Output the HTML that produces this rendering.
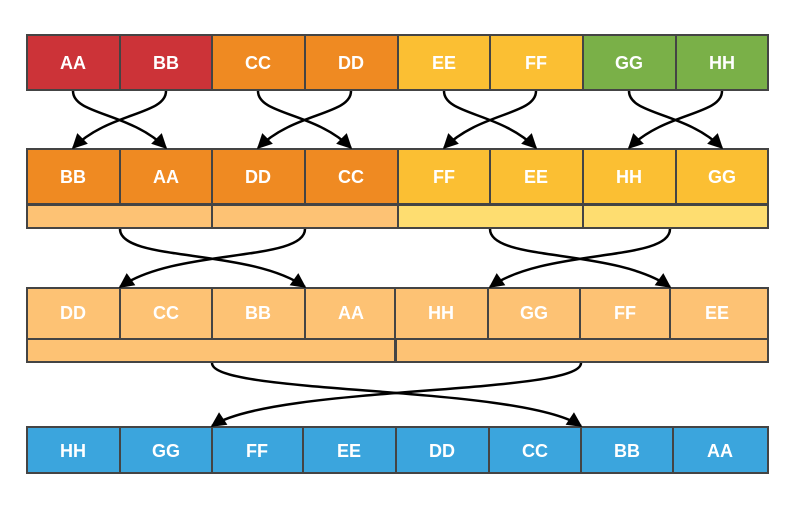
<!DOCTYPE html><html><head><style>body{margin:0;background:#fff;width:800px;height:504px;overflow:hidden}</style></head><body>
<svg width="800" height="504" xmlns="http://www.w3.org/2000/svg" font-family="Liberation Sans, sans-serif" font-weight="bold" font-size="18">
<defs>
<marker id="b" viewBox="0 0 10 10" refX="9" refY="5" markerWidth="18" markerHeight="15" orient="auto" markerUnits="userSpaceOnUse"><path d="M0,0L10,5L0,10z" fill="#000"/></marker></defs>
<g stroke="#444" stroke-width="2">
<rect x="27" y="35" width="93" height="55" fill="#cc3338"/><rect x="120" y="35" width="92" height="55" fill="#cc3338"/>
<rect x="212" y="35" width="93" height="55" fill="#ef8a22"/><rect x="305" y="35" width="93" height="55" fill="#ef8a22"/>
<rect x="398" y="35" width="92" height="55" fill="#fbbf33"/><rect x="490" y="35" width="93" height="55" fill="#fbbf33"/>
<rect x="583" y="35" width="93" height="55" fill="#7ab048"/><rect x="676" y="35" width="92" height="55" fill="#7ab048"/>

<rect x="27" y="149" width="93" height="55" fill="#ef8a22"/><rect x="120" y="149" width="92" height="55" fill="#ef8a22"/>
<rect x="212" y="149" width="93" height="55" fill="#ef8a22"/><rect x="305" y="149" width="93" height="55" fill="#ef8a22"/>
<rect x="398" y="149" width="92" height="55" fill="#fbbf33"/><rect x="490" y="149" width="93" height="55" fill="#fbbf33"/>
<rect x="583" y="149" width="93" height="55" fill="#fbbf33"/><rect x="676" y="149" width="92" height="55" fill="#fbbf33"/>
<rect x="27" y="205" width="185" height="23" fill="#fdc274"/><rect x="212" y="205" width="186" height="23" fill="#fdc274"/>
<rect x="398" y="205" width="185" height="23" fill="#fedd70"/><rect x="583" y="205" width="185" height="23" fill="#fedd70"/>

<rect x="27" y="288" width="93" height="51" fill="#fdc274"/><rect x="120" y="288" width="92" height="51" fill="#fdc274"/>
<rect x="212" y="288" width="93" height="51" fill="#fdc274"/><rect x="305" y="288" width="90" height="51" fill="#fdc274"/>
<rect x="395" y="288" width="93" height="51" fill="#fdc274"/><rect x="488" y="288" width="92" height="51" fill="#fdc274"/>
<rect x="580" y="288" width="90" height="51" fill="#fdc274"/><rect x="670" y="288" width="98" height="51" fill="#fdc274"/>
<rect x="27" y="339" width="368" height="23" fill="#fdc274"/><rect x="396" y="339" width="372" height="23" fill="#fdc274"/>

<rect x="27" y="427" width="93" height="46" fill="#3ba5dd"/><rect x="120" y="427" width="92" height="46" fill="#3ba5dd"/>
<rect x="212" y="427" width="91" height="46" fill="#3ba5dd"/><rect x="303" y="427" width="93" height="46" fill="#3ba5dd"/>
<rect x="396" y="427" width="93" height="46" fill="#3ba5dd"/><rect x="489" y="427" width="92" height="46" fill="#3ba5dd"/>
<rect x="581" y="427" width="92" height="46" fill="#3ba5dd"/><rect x="673" y="427" width="95" height="46" fill="#3ba5dd"/>
</g>
<g fill="#fff" text-anchor="middle">
<text x="73" y="69">AA</text><text x="166" y="69">BB</text><text x="258" y="69">CC</text><text x="351" y="69">DD</text><text x="444" y="69">EE</text><text x="536" y="69">FF</text><text x="629" y="69">GG</text><text x="722" y="69">HH</text>
<text x="73" y="183">BB</text><text x="166" y="183">AA</text><text x="258" y="183">DD</text><text x="351" y="183">CC</text><text x="444" y="183">FF</text><text x="536" y="183">EE</text><text x="629" y="183">HH</text><text x="722" y="183">GG</text>
<text x="73" y="319">DD</text><text x="166" y="319">CC</text><text x="258" y="319">BB</text><text x="351" y="319">AA</text><text x="441" y="319">HH</text><text x="534" y="319">GG</text><text x="625" y="319">FF</text><text x="717" y="319">EE</text>
<text x="73" y="457">HH</text><text x="166" y="457">GG</text><text x="257" y="457">FF</text><text x="349" y="457">EE</text><text x="442" y="457">DD</text><text x="535" y="457">CC</text><text x="627" y="457">BB</text><text x="720" y="457">AA</text>
</g>
<g fill="none" stroke="#000" stroke-width="2.5" marker-end="url(#b)">
<path d="M73,91 C73,115 130,112 166,148"/><path d="M166,91 C166,115 109,112 73,148"/>
<path d="M258,91 C258,115 315,112 351,148"/><path d="M351,91 C351,115 294,112 258,148"/>
<path d="M444,91 C444,115 500,112 536,148"/><path d="M536,91 C536,115 480,112 444,148"/>
<path d="M629,91 C629,115 686,112 722,148"/><path d="M722,91 C722,115 665,112 629,148"/>
<path d="M120,229 C120,262 250,248 305,287"/><path d="M305,229 C305,262 175,248 120,287"/>
<path d="M490,229 C490,262 615,248 670,287"/><path d="M670,229 C670,262 545,248 490,287"/>
<path d="M212,363 C212,395 520,385 581,426"/><path d="M581,363 C581,395 273,385 212,426"/>
</g>
</svg></body></html>
